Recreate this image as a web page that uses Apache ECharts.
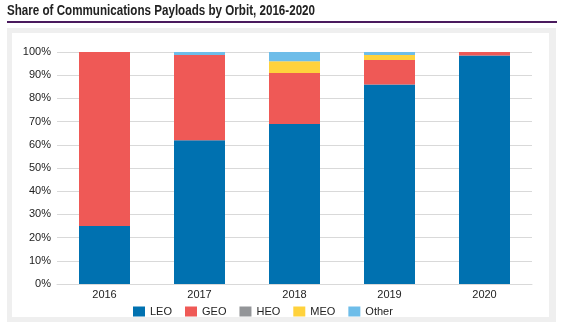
<!DOCTYPE html>
<html><head><meta charset="utf-8">
<script src="https://cdn.jsdelivr.net/npm/echarts@6/dist/echarts.min.js"></script>
<style>html,body{margin:0;padding:0;background:#fff}#c{width:565px;height:325px}</style>
</head><body><div id="c"></div>
<script>
const years = ['2016','2017','2018','2019','2020'];
const leo = [25, 62, 69, 86, 98.5];
const geo = [75, 36.7, 22, 10.5, 1.5];
const heo = [0, 0, 0, 0, 0];
const meo = [0, 0, 5, 2.2, 0];
const other = [0, 1.3, 4, 1.3, 0];
const seriesNames = ['LEO','GEO','HEO','MEO','Other'];
const colors = ['#0071B0','#EF5956','#939598','#FFD23C','#6EBDE9'];
const values = [leo, geo, heo, meo, other];

const chart = echarts.init(document.getElementById('c'));
const font = 'Liberation Sans, Arial, sans-serif';
chart.setOption({
  animation: false,
  graphic: [
    {type:'rect', shape:{x:7,y:28,width:549,height:294}, style:{fill:'#efefef'}, z:-10},
    {type:'rect', shape:{x:12,y:33,width:537,height:284}, style:{fill:'#ffffff'}, z:-9},
    {type:'rect', shape:{x:7,y:21,width:550,height:2}, style:{fill:'#4A1A5E'}},
    {type:'text', x:7, y:4, scaleX:0.83, style:{text:'Share of Communications Payloads by Orbit, 2016-2020', fill:'#222', font:'bold 14px ' + font}}
  ],
  grid: {left:57, right:33, top:52, bottom:41},
  xAxis: {type:'category', data:years, axisLine:{show:true,lineStyle:{color:'#d9d9d9'}}, axisTick:{show:false},
    axisLabel:{color:'#222', fontFamily:font, fontSize:11, margin:5}},
  yAxis: {type:'value', min:0, max:100, interval:10, axisLine:{show:false}, axisTick:{show:false},
    splitLine:{lineStyle:{color:'#d9d9d9'}},
    axisLabel:{color:'#222', fontFamily:font, fontSize:11, margin:6, formatter: v => v + '%'}},
  legend: {data: seriesNames, top:301, left:128, itemWidth:12, itemHeight:10, itemGap:13, icon:'rect',
    textStyle:{color:'#222', fontFamily:font, fontSize:11}},
  series: seriesNames.map((n,i) => ({name:n, type:'bar', stack:'s', data:values[i], barWidth:51,
    itemStyle:{color:colors[i]}}))
});
</script></body></html>
